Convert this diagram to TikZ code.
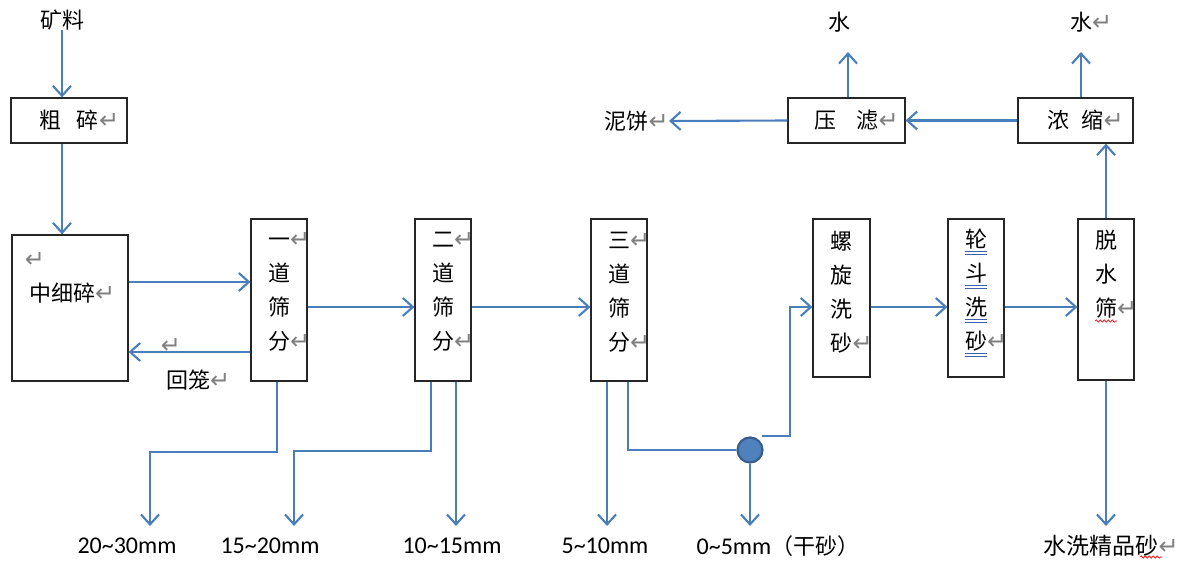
\documentclass[tikz,border=0pt]{standalone}
\usepackage{fontspec}
\usetikzlibrary{arrows.meta,decorations.pathmorphing,calc}
\newfontfamily\cjk{Noto Sans CJK SC}
\newfontfamily\calfont{Carlito}
\newfontfamily\djv{DejaVu Sans}
\definecolor{lnc}{HTML}{4A7EBB}
\definecolor{dotfill}{HTML}{4F81BD}
\definecolor{dotdraw}{HTML}{385D8A}
\definecolor{ulc}{HTML}{3F5FA8}
\newcommand\ret{\textcolor{gray}{\djv\fontsize{24}{24}\selectfont ↵}}
\newcommand\rret{\rlap{\ret}}
\newcommand\dul[1]{\leavevmode\rlap{\textcolor{ulc}{\rule[-4.5pt]{1em}{0.8pt}}}\rlap{\textcolor{ulc}{\rule[-7.5pt]{1em}{0.8pt}}}#1}
\begin{document}
\begin{tikzpicture}[x=1pt,y=-1pt,
  box/.style={draw=black!85, line width=1.2pt, inner sep=0pt, rectangle, font=\cjk\fontsize{22}{34}\selectfont},
  arr/.style={draw=lnc, line width=2.1pt, -{Straight Barb[length=10pt,width=18pt]}},
  vt/.style={align=center, inner sep=0pt, font=\cjk\fontsize{22}{34}\selectfont},
  txt/.style={inner sep=0pt, font=\cjk\fontsize{22}{26}\selectfont},
  lab/.style={inner sep=0pt, font=\calfont\fontsize{24}{26}\selectfont},
  wavy/.style={draw=red, line width=0.7pt, decorate, decoration={snake, amplitude=1.2pt, segment length=4pt}}
]
\useasboundingbox (0,0) rectangle (1188,561);

% boxes
\node[box, minimum width=116pt, minimum height=45pt] (cs) at (69,120.5) {粗\hspace{16pt}碎\rret};
\node[box, minimum width=116pt, minimum height=146pt] (zxs) at (70,308) {};
\node[box, minimum width=56pt, minimum height=162pt] (s1) at (279,300) {};
\node[box, minimum width=56pt, minimum height=162pt] (s2) at (443,300) {};
\node[box, minimum width=56pt, minimum height=162pt] (s3) at (619,300) {};
\node[box, minimum width=57pt, minimum height=158pt] (lx) at (841.5,298) {};
\node[box, minimum width=56pt, minimum height=158pt] (ld) at (976,298) {};
\node[box, minimum width=56pt, minimum height=161pt] (ts) at (1106,299.5) {};
\node[box, minimum width=115pt, minimum height=45pt] (nz) at (1075.5,120.5) {浓\hspace{12pt}缩\rret};
\node[box, minimum width=117pt, minimum height=45pt] (yl) at (846.5,120.5) {压\hspace{20pt}滤\rret};

% texts inside tall boxes
\node[txt] (t0) at (35,260) {\ret};
\node[txt] (t1) at (62,293) {中细碎\rret};
\node[vt] (v1) at (279,292) {一\rret\\道\\筛\\分\rret};
\node[vt] (v2) at (443,292) {二\rret\\道\\筛\\分\rret};
\node[vt] (v3) at (619,292) {三\rret\\道\\筛\\分\rret};
\node[vt] (v4) at (841.5,292.5) {螺\\旋\\洗\\砂\rret};
\node[vt] (v5) at (976,292.5) {\dul{轮}\\\dul{斗}\\\dul{洗}\\\dul{砂}\rret};
\node[vt] (v6) at (1106,274.5) {脱\\水\\筛\rret};
\draw[wavy] (1095,321) -- (1117,321);

% free texts
\node[txt] (kl) at (62,20) {矿料};
\node[txt] (w1) at (839,22) {水};
\node[txt] (w2) at (1081,22) {水\rret};
\node[txt, anchor=east] (nb) at (669,121) {泥饼\ret};
\node[txt] (hl) at (188,380) {回笼\rret};
\node[txt] (hr) at (171,346) {\ret};

% bottom labels
\node[lab] (l1) at (127,546) {20\textasciitilde30mm};
\node[lab] (l2) at (270,546) {15\textasciitilde20mm};
\node[lab] (l3) at (452,546) {10\textasciitilde15mm};
\node[lab] (l4) at (605,546) {5\textasciitilde10mm};
\node[lab] (l5) at (778,546) {0\textasciitilde5mm{\cjk\fontsize{22}{26}\selectfont （干砂）}};
\node[txt, font=\cjk\fontsize{23}{26}\selectfont] (l6) at (1101,546) {水洗精品砂\rret};
\draw[wavy] (1140,557) -- (1162,557);

% coordinates
\coordinate (b1) at (150,452);
\coordinate (e1) at (150,526);
\coordinate (b2) at (294,451);
\coordinate (e2) at (294,526);
\coordinate (e3) at (456,526);
\coordinate (e4) at (607,526);
\coordinate (e5) at (750,526);
\coordinate (e6) at (1106,526);
\coordinate (k1) at (790,307);
\coordinate (e7) at (1081,52);
\coordinate (e8) at (848,52);

\node[circle, fill=dotfill, draw=dotdraw, line width=2.2pt, minimum size=25pt, inner sep=0pt] (dot) at (750,450) {};

% connectors
\draw[arr] (kl.south) -- (kl.south |- cs.north);
\draw[arr] (cs.south -| kl) -- (zxs.north -| kl);
\draw[arr] ([yshift=26pt]zxs.east) -- ([yshift=18pt]s1.west);
\draw[arr] ([yshift=-52pt]s1.west) -- ([yshift=-44pt]zxs.east);
\draw[arr] ([yshift=-7pt]s1.east) -- ([yshift=-7pt]s2.west);
\draw[arr] ([yshift=-7pt]s2.east) -- ([yshift=-7pt]s3.west);
\draw[arr] ([yshift=-9pt]lx.east) -- ([yshift=-9pt]ld.west);
\draw[arr] ([yshift=-9pt]ld.east) -- ([yshift=-7.5pt]ts.west);
\draw[arr] (ts.north) -- (ts.north |- nz.south);
\draw[arr] ([xshift=5.5pt]nz.north) -- (e7);
\draw[arr] (nz.west) -- (yl.east);
\draw[arr] ([xshift=1.5pt]yl.north) -- (e8);
\draw[arr] (yl.west) -- (nb.east);

\draw[arr] ([xshift=-2pt]s1.south) |- (b1) -- (e1);
\draw[arr] ([xshift=-12pt]s2.south) |- (b2) -- (e2);
\draw[arr] ([xshift=13pt]s2.south) -- (e3);
\draw[arr] ([xshift=-12pt]s3.south) -- (e4);
\draw[draw=lnc, line width=2.1pt] ([xshift=9pt]s3.south) |- (dot.west);
\draw[arr] (dot.south) -- (e5);
\draw[arr] ([xshift=12pt]dot.north) -| (k1) -- ([yshift=-9pt]lx.west);
\draw[arr] (ts.south) -- (e6);
\end{tikzpicture}
\end{document}
